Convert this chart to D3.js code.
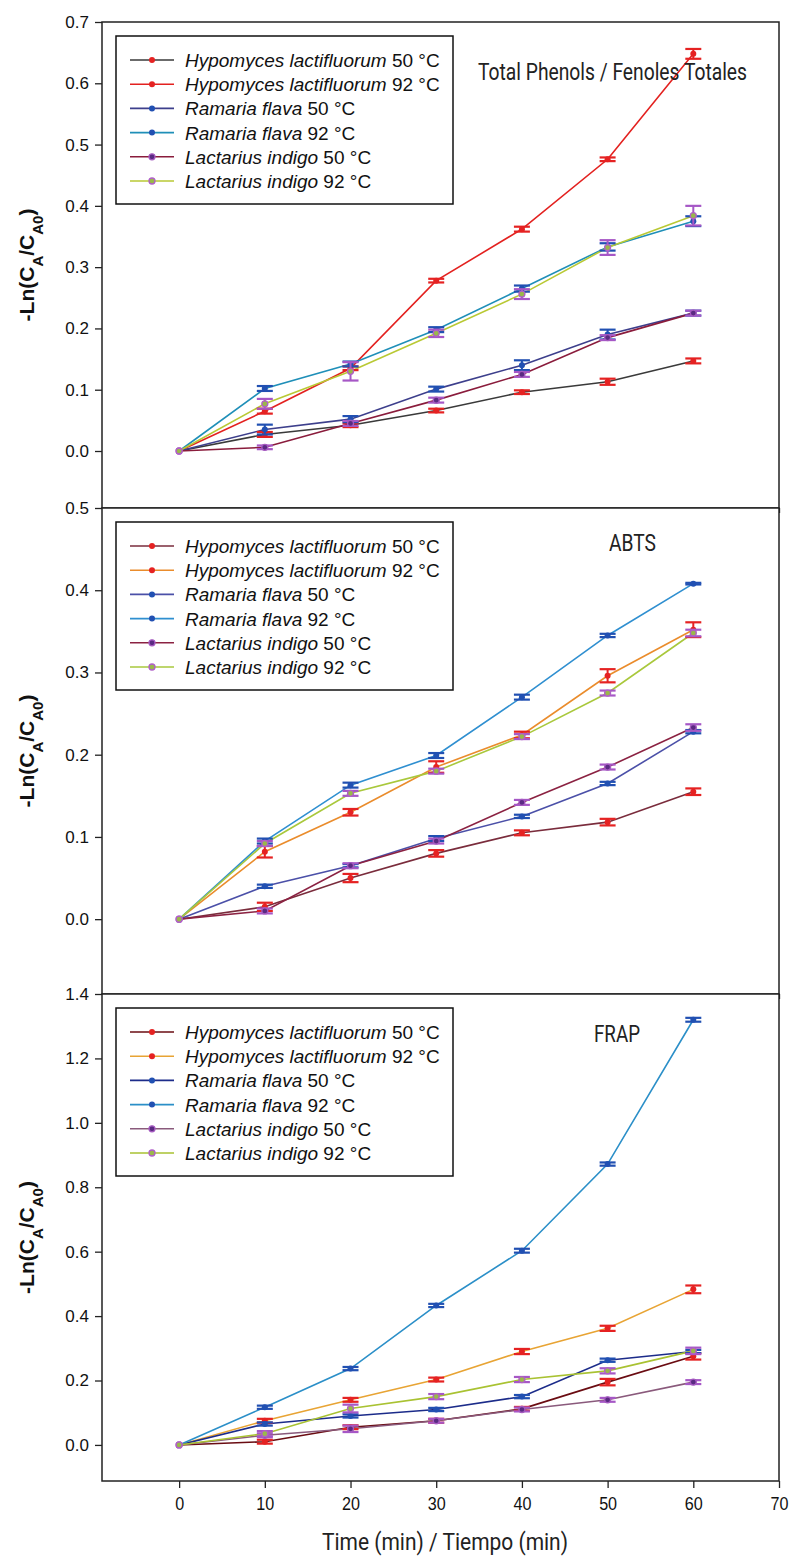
<!DOCTYPE html>
<html>
<head>
<meta charset="utf-8">
<script src="https://cdn.jsdelivr.net/npm/d3@7"></script>
<style>
  body { margin: 0; background: #fff; }
  svg { display: block; }
  .tick text { font-family: "Liberation Sans", Arial, sans-serif; }
</style>
</head>
<body>
<div class="canvas"></div>
<script>
// time points (min)
const times = [0, 10, 20, 30, 40, 50, 60];

// series names
const species = ['Hypomyces lactifluorum', 'Hypomyces lactifluorum', 'Ramaria flava', 'Ramaria flava', 'Lactarius indigo', 'Lactarius indigo'];
const temps = ['50 °C', '92 °C', '50 °C', '92 °C', '50 °C', '92 °C'];

// panel titles
const titles = ['Total Phenols / Fenoles Totales', 'ABTS', 'FRAP'];

// total phenols values and error bars
const phenolsVals = [
  [0, 0.027, 0.042, 0.066, 0.096, 0.113, 0.147],
  [0, 0.065, 0.135, 0.278, 0.362, 0.476, 0.648],
  [0, 0.035, 0.052, 0.101, 0.140, 0.190, 0.225],
  [0, 0.102, 0.142, 0.198, 0.265, 0.333, 0.375],
  [0, 0.006, 0.045, 0.083, 0.125, 0.185, 0.225],
  [0, 0.077, 0.130, 0.192, 0.256, 0.332, 0.384]
];
const phenolsErr = [
  [0, 0.004, 0.003, 0.003, 0.003, 0.005, 0.004],
  [0, 0.004, 0.003, 0.003, 0.004, 0.003, 0.008],
  [0, 0.008, 0.005, 0.004, 0.008, 0.008, 0.004],
  [0, 0.004, 0.004, 0.004, 0.005, 0.006, 0.008],
  [0, 0.003, 0.004, 0.004, 0.004, 0.004, 0.004],
  [0, 0.008, 0.015, 0.006, 0.008, 0.012, 0.016]
];

// ABTS values and error bars
const abtsVals = [
  [0, 0.015, 0.050, 0.080, 0.105, 0.118, 0.155],
  [0, 0.082, 0.130, 0.185, 0.224, 0.296, 0.352],
  [0, 0.040, 0.065, 0.098, 0.125, 0.165, 0.228],
  [0, 0.095, 0.163, 0.199, 0.270, 0.345, 0.408],
  [0, 0.010, 0.065, 0.095, 0.142, 0.185, 0.233],
  [0, 0.092, 0.153, 0.180, 0.222, 0.275, 0.348]
];
const abtsErr = [
  [0, 0.005, 0.005, 0.004, 0.003, 0.004, 0.004],
  [0, 0.007, 0.004, 0.007, 0.004, 0.008, 0.009],
  [0, 0.002, 0.002, 0.003, 0.002, 0.002, 0.002],
  [0, 0.003, 0.003, 0.003, 0.003, 0.002, 0.001],
  [0, 0.003, 0.003, 0.003, 0.003, 0.003, 0.004],
  [0, 0.003, 0.003, 0.003, 0.003, 0.003, 0.004]
];

// FRAP values and error bars
const frapVals = [
  [0, 0.010, 0.055, 0.075, 0.112, 0.195, 0.275],
  [0, 0.075, 0.140, 0.203, 0.290, 0.362, 0.483],
  [0, 0.065, 0.090, 0.110, 0.150, 0.263, 0.290],
  [0, 0.117, 0.237, 0.433, 0.603, 0.872, 1.320],
  [0, 0.030, 0.050, 0.075, 0.110, 0.140, 0.195],
  [0, 0.035, 0.113, 0.150, 0.203, 0.230, 0.292]
];
const frapErr = [
  [0, 0.006, 0.006, 0.006, 0.006, 0.010, 0.010],
  [0, 0.006, 0.006, 0.006, 0.008, 0.008, 0.012],
  [0, 0.005, 0.005, 0.005, 0.005, 0.005, 0.005],
  [0, 0.005, 0.005, 0.005, 0.006, 0.005, 0.006],
  [0, 0.006, 0.010, 0.006, 0.006, 0.006, 0.006],
  [0, 0.008, 0.012, 0.008, 0.008, 0.008, 0.010]
];

// y ticks per panel
const phenolsTicks = [0, 0.1, 0.2, 0.3, 0.4, 0.5, 0.6, 0.7];
const abtsTicks = [0, 0.1, 0.2, 0.3, 0.4, 0.5];
const frapTicks = [0, 0.2, 0.4, 0.6, 0.8, 1.0, 1.2, 1.4];
const xTicks = [0, 10, 20, 30, 40, 50, 60, 70];

// line colours per panel (they differ a bit in the original)
const lineColors = [
  ['#3a3a3a', '#e3211f', '#3d3f8c', '#1f8fb8', '#8a1c3c', '#b9c934'],
  ['#7a2c3c', '#ea8c2c', '#4b50a8', '#2f8fd0', '#8b2242', '#a9c83c'],
  ['#6a0c12', '#e8a434', '#1c2c8a', '#2b8fc8', '#8a5a7c', '#a9c232']
];
const dotColors = ['#e52222', '#e52222', '#2150b2', '#2150b2', '#5a2a82', '#9ab84a'];
const dotStroke = ['none', 'none', 'none', 'none', '#a55ac0', '#b060c8'];
const errColors = ['#e52222', '#e52222', '#2150b2', '#2150b2', '#a657c6', '#a657c6'];

const panels = [
  { vals: phenolsVals, err: phenolsErr, ticks: phenolsTicks, dom: [-0.093, 0.7], top: 22, bottom: 508, tx: 478, ty: 80, tw: 269 },
  { vals: abtsVals, err: abtsErr, ticks: abtsTicks, dom: [-0.091, 0.5], top: 508, bottom: 994, tx: 609, ty: 551, tw: 47 },
  { vals: frapVals, err: frapErr, ticks: frapTicks, dom: [-0.112, 1.4], top: 994, bottom: 1481, tx: 594, ty: 1042, tw: 46 }
];

const W = 791, H = 1559;
const left = 102, right = 779;

const svg = d3.select('.canvas')
  .append('svg')
  .attr('width', W)
  .attr('height', H);

// x scale shared by all panels
const x = d3.scaleLinear().domain([-9, 70]).range([left, right]);

panels.forEach((p, pi) => {
  const y = d3.scaleLinear().domain(p.dom).range([p.bottom, p.top]);
  const g = svg.append('g');

  // white background so the next panel covers the previous ticks
  g.append('rect')
    .attr('x', left).attr('y', p.top)
    .attr('width', right - left).attr('height', p.bottom - p.top)
    .attr('fill', '#fff');

  // y axis
  const yAxis = d3.axisLeft(y)
    .tickValues(p.ticks)
    .tickFormat(d3.format('.1f'))
    .tickSize(7)
    .tickPadding(6);
  const ya = g.append('g')
    .attr('transform', `translate(${left},0)`)
    .call(yAxis);
  ya.select('.domain').remove();
  ya.selectAll('line').attr('stroke', '#222').attr('stroke-width', 1.3);
  ya.selectAll('text').attr('font-size', 17).attr('fill', '#111');

  // frame
  g.append('rect')
    .attr('x', left).attr('y', p.top)
    .attr('width', right - left).attr('height', p.bottom - p.top)
    .attr('fill', 'none')
    .attr('stroke', '#222')
    .attr('stroke-width', 1.5);

  // y label
  const yl = g.append('text')
    .attr('transform', `translate(34,${(p.top + p.bottom) / 2}) rotate(-90)`)
    .attr('text-anchor', 'middle')
    .attr('font-family', '"Liberation Sans", Arial, sans-serif')
    .attr('font-weight', 'bold')
    .attr('font-size', 21)
    .attr('fill', '#111');
  yl.append('tspan').text('-Ln(C');
  yl.append('tspan').attr('baseline-shift', 'sub').attr('font-size', 15).text('A');
  yl.append('tspan').text('/C');
  yl.append('tspan').attr('baseline-shift', 'sub').attr('font-size', 15).text('A0');
  yl.append('tspan').text(')');

  // series lines
  const line = d3.line()
    .x((d, i) => x(times[i]))
    .y(d => y(d));

  p.vals.forEach((vals, si) => {
    g.append('path')
      .datum(vals)
      .attr('d', line)
      .attr('fill', 'none')
      .attr('stroke', lineColors[pi][si])
      .attr('stroke-width', 1.6);
  });

  // error bars and dots
  p.vals.forEach((vals, si) => {
    const eg = g.append('g');
    vals.forEach((v, i) => {
      const e = p.err[si][i];
      if (e <= 0) return;
      const cx = x(times[i]);
      const y1 = y(v + e), y2 = y(v - e);
      eg.append('line')
        .attr('x1', cx).attr('x2', cx).attr('y1', y1).attr('y2', y2)
        .attr('stroke', errColors[si]).attr('stroke-width', 2);
      [y1, y2].forEach(yy => {
        eg.append('line')
          .attr('x1', cx - 8).attr('x2', cx + 8).attr('y1', yy).attr('y2', yy)
          .attr('stroke', errColors[si]).attr('stroke-width', 2.2);
      });
    });
    g.selectAll(null)
      .data(vals)
      .enter()
      .append('circle')
      .attr('cx', (d, i) => x(times[i]))
      .attr('cy', d => y(d))
      .attr('r', 3)
      .attr('fill', dotColors[si])
      .attr('stroke', dotStroke[si])
      .attr('stroke-width', 1.3);
  });

  // bottom x ticks for each panel
  const xAxis = d3.axisBottom(x)
    .tickValues(xTicks)
    .tickSize(pi === 2 ? 7 : 5)
    .tickPadding(9)
    .tickFormat(pi === 2 ? d3.format('d') : '');
  const xa = g.append('g')
    .attr('transform', `translate(0,${p.bottom})`)
    .call(xAxis);
  xa.select('.domain').remove();
  xa.selectAll('line').attr('stroke', '#222').attr('stroke-width', 1.3);
  xa.selectAll('text')
    .attr('font-family', 'Roboto, sans-serif')
    .attr('font-size', 19)
    .attr('transform', 'scale(0.85,1)')
    .attr('fill', '#111');
  xa.selectAll('.tick').each(function () {
    // keep labels centred on the tick after the horizontal squeeze
    d3.select(this).select('text').attr('x', 0);
  });

  // legend
  const lg = g.append('g').attr('transform', `translate(116,${p.top + 14})`);
  lg.append('rect')
    .attr('width', 337).attr('height', 168)
    .attr('fill', '#fff')
    .attr('stroke', '#111')
    .attr('stroke-width', 1.5);
  species.forEach((s, si) => {
    const ry = 24 + si * 24.2;
    lg.append('line')
      .attr('x1', 14).attr('x2', 58).attr('y1', ry).attr('y2', ry)
      .attr('stroke', lineColors[pi][si]).attr('stroke-width', 1.6);
    lg.append('circle')
      .attr('cx', 36).attr('cy', ry).attr('r', 3)
      .attr('fill', dotColors[si])
      .attr('stroke', dotStroke[si])
      .attr('stroke-width', 1.3);
    const t = lg.append('text')
      .attr('x', 69).attr('y', ry + 7)
      .attr('font-family', '"Liberation Sans", Arial, sans-serif')
      .attr('font-size', 19)
      .attr('fill', '#111');
    t.append('tspan').attr('font-style', 'italic').text(s);
    t.append('tspan').text(' ' + temps[si]);
  });

  // panel title
  g.append('text')
    .attr('x', p.tx).attr('y', p.ty)
    .attr('font-family', 'Roboto, sans-serif')
    .attr('font-size', 23)
    .attr('textLength', p.tw)
    .attr('lengthAdjust', 'spacingAndGlyphs')
    .attr('fill', '#222')
    .text(titles[pi]);
});

// x axis title
svg.append('text')
  .attr('x', 322).attr('y', 1550)
  .attr('font-family', 'Roboto, sans-serif')
  .attr('font-size', 23)
  .attr('textLength', 246)
  .attr('lengthAdjust', 'spacingAndGlyphs')
  .attr('fill', '#222')
  .text('Time (min) / Tiempo (min)');
</script>
</body>
</html>
